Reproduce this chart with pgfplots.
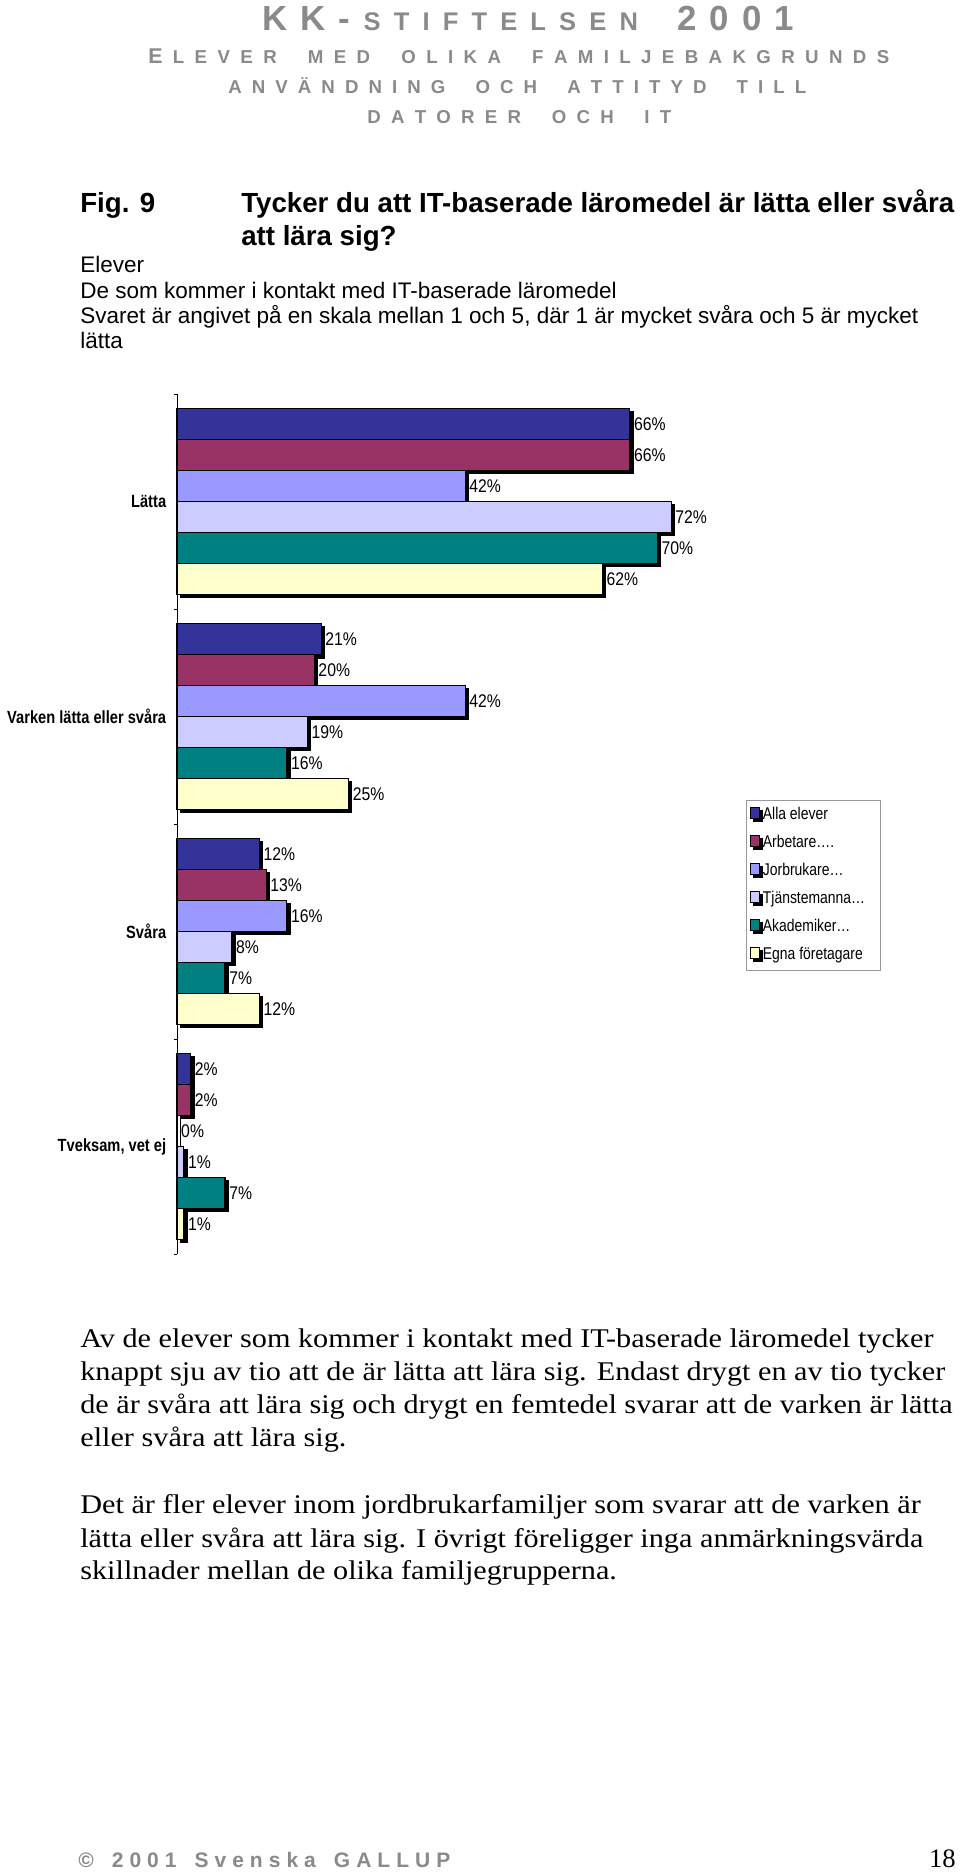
\documentclass[border=0pt]{standalone}
\usepackage{fontspec}
\setmainfont{Liberation Sans}
\newfontfamily\bodyserif[FakeStretch=1.12]{Liberation Serif}
\newfontfamily\plainserif{Liberation Serif}
\newfontfamily\narrowA[FakeStretch=0.83]{Liberation Sans}
\newfontfamily\narrowB[FakeStretch=0.82]{Liberation Sans}
\newfontfamily\narrowC[FakeStretch=0.86]{Liberation Sans}
\usepackage{pgfplots}
\pgfplotsset{compat=1.18}

\definecolor{hdrgray}{HTML}{8A8A8A}
\definecolor{c1}{HTML}{333399}
\definecolor{c2}{HTML}{993366}
\definecolor{c3}{HTML}{9999FF}
\definecolor{c4}{HTML}{CCCCFF}
\definecolor{c5}{HTML}{008080}
\definecolor{c6}{HTML}{FFFFCC}

\newcommand\fs[1]{\fontsize{#1}{#1}\selectfont}
\newcommand\hf{\hfill}
\newcommand\lgtext[1]{\makebox[67.8pt][l]{#1}}

\tikzset{shadowed/.style={preaction={fill=black, transform canvas={shift={(2pt,-2pt)}}}}}
\pgfplotsset{
  lg/.style={legend image code/.code={\draw[fill=#1,draw=black,line width=0.5pt] (0pt,-1.8pt) rectangle (5.4pt,4.8pt);}},
  bars/.style={fill=#1, draw=black, line width=0.7pt, shadowed, lg=#1}
}

\begin{document}
\begin{tikzpicture}
\begin{scope}[x=0.6pt,y=-0.6pt]
  \fill[white] (0,0) rectangle (960,1872);
  \path[use as bounding box] (0,0) rectangle (960,1872);

  % header and footer
  \begin{scope}[every node/.style={anchor=base west, inner sep=0pt, text=hdrgray}]
  \node at (262,30) {\makebox[319.2pt][s]{\bfseries\fs{20.9}K\hf K\hf -\hf\fs{15.3}S\hf T\hf I\hf F\hf T\hf E\hf L\hf S\hf E\hf N\hf\hf\hf\fs{20.9}2\hf 0\hf 0\hf 1}};
  \node at (148,63) {\makebox[444.6pt][s]{\bfseries{\fs{12.8}E}\hf\fs{11.2}L\hf E\hf V\hf E\hf R\hf\hf\hf M\hf E\hf D\hf\hf\hf O\hf L\hf I\hf K\hf A\hf\hf\hf F\hf A\hf M\hf I\hf L\hf J\hf E\hf B\hf A\hf K\hf G\hf R\hf U\hf N\hf D\hf S}};
  \node at (228,93) {\makebox[346.8pt][s]{\bfseries\fs{11.2}A\hf N\hf V\hf Ä\hf N\hf D\hf N\hf I\hf N\hf G\hf\hf\hf O\hf C\hf H\hf\hf\hf A\hf T\hf T\hf I\hf T\hf Y\hf D\hf\hf\hf T\hf I\hf L\hf L}};
  \node at (367,123) {\makebox[182.4pt][s]{\bfseries\fs{11.2}D\hf A\hf T\hf O\hf R\hf E\hf R\hf\hf\hf O\hf C\hf H\hf\hf\hf I\hf T}};
  \node at (78,1867) {\makebox[223.2pt][s]{\bfseries\fs{12.6}©\hf\hf\hf 2\hf 0\hf 0\hf 1\hf\hf\hf S\hf v\hf e\hf n\hf s\hf k\hf a\hf\hf\hf G\hf A\hf L\hf L\hf U\hf P}};
  \end{scope}
  \node[anchor=base east, inner sep=0pt] at (956,1867) {\plainserif\fs{16}18};

  % title block
  \begin{scope}[every node/.style={anchor=base west, inner sep=0pt}]
  \node at (80,212) {\bfseries\fs{16.6}Fig. 9};
  \node at (241,212) {\bfseries\fs{16.6}Tycker du att IT-baserade läromedel är lätta eller svåra};
  \node at (241,245) {\bfseries\fs{16.6}att lära sig?};
  \node at (80,272) {\fs{13.5}Elever};
  \node at (80,298) {\fs{13.5}De som kommer i kontakt med IT-baserade läromedel};
  \node at (80,323) {\fs{13.5}Svaret är angivet på en skala mellan 1 och 5, där 1 är mycket svåra och 5 är mycket};
  \node at (80,348) {\fs{13.5}lätta};

  % body text
  \node at (80,1347) {\bodyserif\fs{16.2}Av de elever som kommer i kontakt med IT-baserade läromedel tycker};
  \node at (80,1380) {\bodyserif\fs{16.2}knappt sju av tio att de är lätta att lära sig. Endast drygt en av tio tycker};
  \node at (80,1413) {\bodyserif\fs{16.2}de är svåra att lära sig och drygt en femtedel svarar att de varken är lätta};
  \node at (80,1446) {\bodyserif\fs{16.2}eller svåra att lära sig.};
  \node at (80,1513) {\bodyserif\fs{16.2}Det är fler elever inom jordbrukarfamiljer som svarar att de varken är};
  \node at (80,1547) {\bodyserif\fs{16.2}lätta eller svåra att lära sig. I övrigt föreligger inga anmärkningsvärda};
  \node at (80,1579) {\bodyserif\fs{16.2}skillnader mellan de olika familjegrupperna.};
  \end{scope}
\end{scope}

\begin{axis}[
  at={(106.2pt,-236.4pt)}, anchor=north west,
  scale only axis, width=329.4pt, height=516pt,
  xmin=0, xmax=80, ymin=-0.5, ymax=3.5, y dir=reverse,
  xbar=0pt, bar width=0.144,
  axis x line=none, axis y line*=left,
  axis line style={black, line width=0.5pt},
  ytick={0,1,2,3},
  yticklabels={Lätta, Varken lätta eller svåra, Svåra, {Tveksam, vet ej}},
  minor ytick={-0.5,0.5,1.5,2.5,3.5},
  major tick length=0pt, minor tick length=1.8pt, tick align=outside,
  tick style={black, line width=0.4pt},
  yticklabel style={font=\narrowA\bfseries\fs{10.6}, inner sep=0pt, xshift=-6.3pt},
  nodes near coords={\pgfmathprintnumber{\pgfplotspointmeta}\%},
  nodes near coords align=horizontal,
  every node near coord/.append style={font=\narrowC\fs{11}, text=black, inner sep=0pt, anchor=west, xshift=2.2pt},
  /pgf/number format/assume math mode=true,
  clip=false,
  legend cell align=left,
  legend style={at={(1.0364,0.528)}, anchor=north west, draw=gray!80, line width=0.5pt,
    font=\narrowB\fs{10.2}, inner xsep=2.2pt, inner ysep=3.7pt, row sep=6.2pt,
    nodes={inner sep=0.8pt, text height=7pt, text depth=2pt},
    /tikz/every odd column/.append style={column sep=1pt}},
]
\addplot[bars=c1] coordinates {(66,0) (21,1) (12,2) (2,3)};
\addplot[bars=c2] coordinates {(66,0) (20,1) (13,2) (2,3)};
\addplot[bars=c3] coordinates {(42,0) (42,1) (16,2) (0,3)};
\addplot[bars=c4] coordinates {(72,0) (19,1) (8,2) (1,3)};
\addplot[bars=c5] coordinates {(70,0) (16,1) (7,2) (7,3)};
\addplot[bars=c6] coordinates {(62,0) (25,1) (12,2) (1,3)};
\legend{\lgtext{Alla elever}, \lgtext{Arbetare….}, \lgtext{Jorbrukare…}, \lgtext{Tjänstemanna…}, \lgtext{Akademiker…}, \lgtext{Egna företagare}}
\end{axis}
\end{tikzpicture}
\end{document}
